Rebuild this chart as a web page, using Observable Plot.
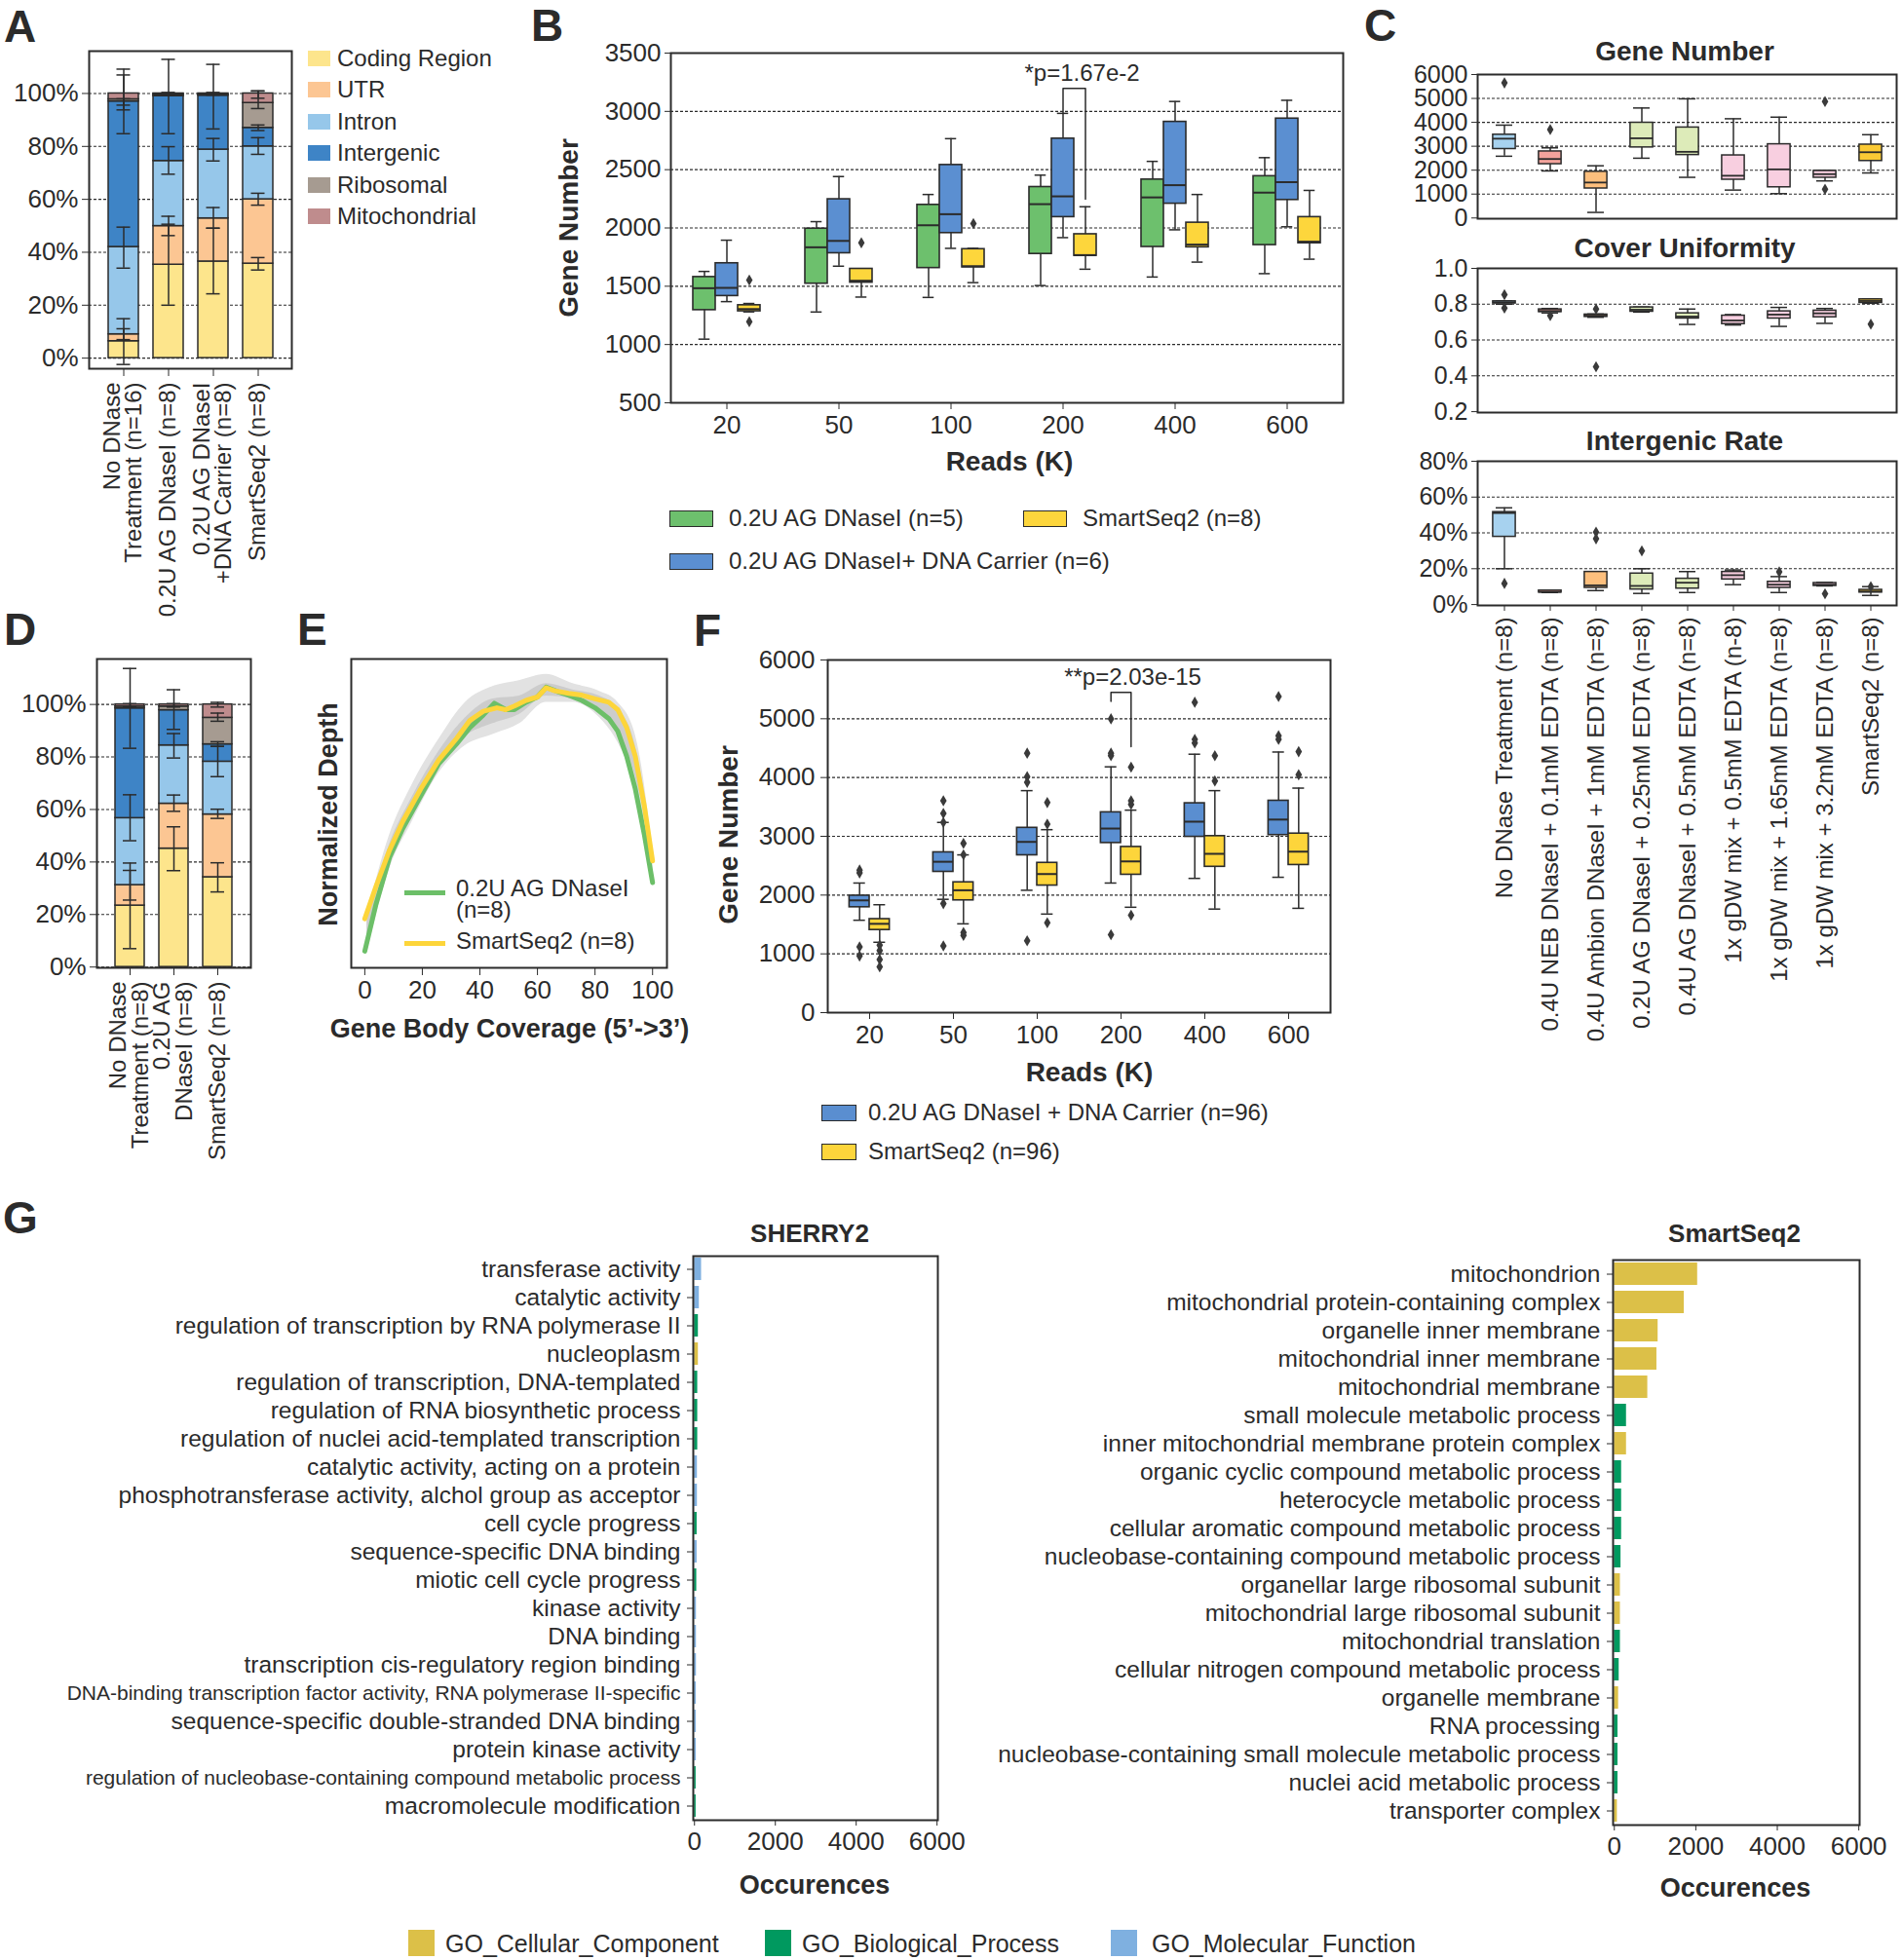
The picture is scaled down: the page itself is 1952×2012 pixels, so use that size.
<!DOCTYPE html>
<html><head><meta charset="utf-8">
<script src="https://cdn.jsdelivr.net/npm/d3@7"></script>
<script src="https://cdn.jsdelivr.net/npm/@observablehq/plot@0.6"></script>
<style>
html,body{margin:0;padding:0;background:#fff;}
#page{position:relative;width:1952px;height:2012px;overflow:hidden;font-family:"Liberation Sans",Arial,Helvetica,sans-serif;color:#2b2b2b;background:#fff;}
.t{position:absolute;white-space:pre;line-height:1;}
.sw{position:absolute;box-sizing:border-box;}
</style></head><body><div id="page"></div>
<script>
// ================= DATA =================
// Panel A
const segments = ["Coding Region","UTR","Intron","Intergenic","Ribosomal","Mitochondrial"];
const catsA = ["No DNase\nTreatment (n=16)","0.2U AG DNaseI (n=8)","0.2U AG DNaseI\n+DNA Carrier (n=8)","SmartSeq2 (n=8)"];
const fracA = [
  [6.4, 2.6, 33.0, 55.0, 0.8, 2.2],
  [35.3, 14.6, 24.6, 24.5, 0.5, 0.5],
  [36.5, 16.3, 26.0, 20.4, 0.4, 0.4],
  [35.7, 24.3, 20.0, 7.0, 9.4, 3.6]
];
const errA = [
  [[-2.4,14.9],[7,11.1],[34,49.5],[84.8,109.2],[95.6,98],[93.8,107]],
  [[20,50.6],[46.3,53.6],[69.5,79.9],[84.8,112.9],[99.4,100.4]],
  [[24.3,49.1],[49.1,56.9],[74.5,83],[86.6,111],[99.4,100.4]],
  [[33.3,38],[57.8,62.3],[77,83.3],[86,88.1],[94.3,100.9],[98.2,101]]
];
const pctTicks = [0,20,40,60,80,100];

// Panel B  (each box: [whiskerLow, q1, median, q3, whiskerHigh])
const readsB = ["20","50","100","200","400","600"];
const seriesB = ["0.2U AG DNaseI (n=5)","0.2U AG DNaseI+ DNA Carrier (n=6)","SmartSeq2 (n=8)"];
const boxB_green = [[1046,1295,1483,1579,1627],[1279,1522,1834,1994,2054],[1404,1656,2023,2198,2287],[1506,1777,2204,2351,2453],[1579,1837,2262,2415,2571],[1608,1853,2303,2444,2603]];
const boxB_blue = [[1368,1416,1486,1697,1895],[1672,1783,1889,2246,2441],[1825,1956,2118,2540,2766],[1917,2093,2271,2766,2983],[1984,2208,2367,2910,3085],[2010,2240,2393,2938,3095]];
const boxB_yellow = [[1280,1285,1304,1337,1352],[1407,1531,1547,1649,1649],[1531,1662,1672,1818,1825],[1646,1761,1767,1946,2182],[1707,1834,1857,2045,2287],[1732,1869,1882,2093,2322]];
const outB = [[0,2,1553],[0,2,1196],[1,2,1873],[2,2,2038]]; // [group, series, value]
const sigB = {group:3, from:1, to:2, top:3197, leftEnd:2990, rightEnd:2246, label:"*p=1.67e-2"};
const ticksB = [500,1000,1500,2000,2500,3000,3500];

// Panel C
const catsC = ["No DNase Treatment (n=8)","0.4U NEB DNaseI + 0.1mM EDTA (n=8)","0.4U Ambion DNaseI + 1mM EDTA (n=8)","0.2U AG DNaseI + 0.25mM EDTA (n=8)","0.4U AG DNaseI + 0.5mM EDTA (n=8)","1x gDW mix + 0.5mM EDTA (n-8)","1x gDW mix + 1.65mM EDTA (n=8)","1x gDW mix + 3.2mM EDTA (n=8)","SmartSeq2 (n=8)"];
const geneNumC = [[2583,2883,3317,3483,3883],[1967,2250,2467,2783,2933],[233,1233,1483,1933,2183],[2500,2950,3333,3983,4600],[1700,2633,2767,3783,4983],[1167,1600,1767,2617,4150],[1017,1283,2033,3083,4217],[1550,1683,1833,1967,1990],[1883,2383,2750,3067,3483]];
const geneNumOutC = [[0,5650],[1,3700],[7,4867],[7,1200]];
const coverC = [[0.800,0.804,0.811,0.816,0.818],[0.751,0.756,0.762,0.771,0.776],[0.727,0.729,0.736,0.742,0.745],[0.756,0.758,0.769,0.782,0.784],[0.687,0.720,0.731,0.749,0.773],[0.684,0.689,0.709,0.736,0.742],[0.676,0.720,0.742,0.760,0.782],[0.693,0.727,0.749,0.764,0.776],[0.805,0.807,0.818,0.827,0.829]];
const coverOutC = [[0,0.853],[0,0.778],[1,0.736],[2,0.773],[2,0.451],[8,0.689]];
const interC = [[20,37.8,51.1,51.6,54],[6.7,6.7,7.1,7.8,8.0],[7.8,9.3,10.7,18.2,18.2],[6.2,8.4,10.4,17.3,20],[6.7,8.9,12.2,14.4,18.4],[11.1,14.0,16.4,18.2,19.3],[6.7,9.3,11.1,12.7,15.6],[10.4,10.4,11.1,12,12.4],[5.1,6.7,7.3,8.2,10]];
const interOutC = [[0,11.8],[2,40.4],[2,36.7],[3,30],[6,18.2],[7,6],[8,10]];

// Panel D
const catsD = ["No DNase\nTreatment (n=8)","0.2U AG\nDNaseI (n=8)","SmartSeq2 (n=8)"];
const fracD = [
  [23.4, 7.8, 25.5, 41.8, 0.7, 0.8],
  [45.1, 17.1, 22.2, 13.4, 1.4, 0.8],
  [34.2, 23.9, 20.1, 6.6, 10.1, 5.1]
];
const errD = [
  [[7,39.6],[25.5,36.8],[48.1,65.6],[83.3,113.7],[99,100.3]],
  [[36.7,53.4],[59.3,65.5],[79.6,88.9],[90.5,105.6],[99,100.3]],
  [[28.6,39.7],[56.6,60.1],[72.5,84],[84,85.8],[93.6,96.7],[99,100.8]]
];

// Panel E (gene body coverage, normalized depth)
const seriesE = ["0.2U AG DNaseI\n(n=8)","SmartSeq2 (n=8)"];
const xGreenE = [0,3.9,8.6,13.2,19.4,25.7,31.9,36.5,41.2,45,49,52,56,60,63,66.9,70.8,75.4,80,84.8,87.9,91,94,97.2,100];
const greenE  = [0.054,0.206,0.357,0.451,0.556,0.661,0.725,0.778,0.819,0.857,0.836,0.836,0.86,0.877,0.909,0.895,0.883,0.866,0.842,0.807,0.766,0.685,0.579,0.428,0.276];
const xYellowE = [0,3.9,8.6,13.2,19.4,25.7,31.9,36.5,41.2,45.9,49,52,56,60,63,66,70.8,75.4,80,84.8,87.9,91,94,97.2,100];
const yellowE  = [0.159,0.264,0.381,0.474,0.579,0.673,0.743,0.801,0.831,0.842,0.836,0.848,0.866,0.877,0.907,0.897,0.889,0.883,0.871,0.86,0.836,0.778,0.685,0.521,0.346];
const xBandE   = [0.8,8.6,16.3,25.7,35,44.3,53.7,63,72.3,81.6,87.9,94,98.8,100];
const outerHiE = [0.17,0.43,0.59,0.74,0.86,0.91,0.93,0.95,0.92,0.895,0.86,0.755,0.47,0.36];
const outerLoE = [0.05,0.32,0.47,0.63,0.72,0.755,0.79,0.86,0.86,0.81,0.73,0.59,0.36,0.26];
const innerHiE = [0.15,0.40,0.55,0.70,0.81,0.87,0.88,0.92,0.90,0.88,0.84,0.72,0.45,0.35];
const innerLoE = [0.07,0.35,0.50,0.66,0.75,0.79,0.82,0.88,0.87,0.83,0.76,0.62,0.39,0.28];
const ticksE = [0,20,40,60,80,100];

// Panel F
const readsF = ["20","50","100","200","400","600"];
const seriesF = ["0.2U AG DNaseI + DNA Carrier (n=96)","SmartSeq2 (n=96)"];
const boxF_blue = [[1572,1793,1910,1990,2205],[1928,2395,2567,2727,3236],[2082,2677,2905,3144,3777],[2205,2886,3132,3408,4182],[2284,2991,3249,3562,4397],[2303,3021,3285,3605,4434]];
const boxF_yellow = [[1197,1406,1511,1591,1836],[1511,1910,2082,2217,2684],[1677,2162,2358,2548,3113],[1793,2346,2573,2819,3445],[1762,2481,2702,3003,3777],[1775,2512,2739,3046,3820]];
const outF = [[0,0,2426],[0,0,2377],[0,0,1118],[0,0,964],[0,1,1148],[0,1,1056],[0,1,903],[0,1,780],
  [1,0,3605],[1,0,3390],[1,0,3236],[1,0,1855],[1,0,1136],[1,1,2880],[1,1,2684],[1,1,1363],[1,1,1314],
  [2,0,4415],[2,0,4016],[2,0,3918],[2,0,1222],[2,1,3574],[2,1,3206],[2,1,1529],
  [3,0,4999],[3,0,4415],[3,0,4372],[3,0,1326],[3,1,4176],[3,1,3605],[3,1,3543],[3,1,1658],
  [4,0,5281],[4,0,4649],[4,0,4587],[4,1,4372],[4,1,3942],
  [5,0,5379],[5,0,4710],[5,0,4649],[5,1,4440],[5,1,4047]];
const sigF = {group:3, from:0, to:1, top:5447, leftEnd:5294, rightEnd:4526, label:"**p=2.03e-15"};
const ticksF = [0,1000,2000,3000,4000,5000,6000];

// Panel G
const goCats = ["GO_Cellular_Component","GO_Biological_Process","GO_Molecular_Function"];
const termsS = ["transferase activity","catalytic activity","regulation of transcription by RNA polymerase II","nucleoplasm","regulation of transcription, DNA-templated","regulation of RNA biosynthetic process","regulation of nuclei acid-templated transcription","catalytic activity, acting on a protein","phosphotransferase activity, alchol group as acceptor","cell cycle progress","sequence-specific DNA binding","miotic cell cycle progress","kinase activity","DNA binding","transcription cis-regulatory region binding","DNA-binding transcription factor activity, RNA polymerase II-specific","sequence-specific double-stranded DNA binding","protein kinase activity","regulation of nucleobase-containing compound metabolic process","macromolecule modification"];
const countsS = [175,120,96,96,80,80,80,72,72,65,65,56,48,48,48,45,45,45,40,40];
const goS = [2,2,1,0,1,1,1,2,2,1,2,1,2,2,2,2,2,2,1,1];
const termsQ = ["mitochondrion","mitochondrial protein-containing complex","organelle inner membrane","mitochondrial inner membrane","mitochondrial membrane","small molecule metabolic process","inner mitochondrial membrane protein complex","organic cyclic compound metabolic process","heterocycle metabolic process","cellular aromatic compound metabolic process","nucleobase-containing compound metabolic process","organellar large ribosomal subunit","mitochondrial large ribosomal subunit","mitochondrial translation","cellular nitrogen compound metabolic process","organelle membrane","RNA processing","nucleobase-containing small molecule metabolic process","nuclei acid metabolic process","transporter complex"];
const countsQ = [2045,1717,1075,1045,821,299,299,179,179,179,164,149,149,149,119,105,90,90,90,75];
const goQ = [0,0,0,0,0,1,0,1,1,1,1,0,0,1,1,0,1,1,1,0];
const ticksG = [0,2000,4000,6000];

// ================= STYLE =================
const FONT = '"Liberation Sans", Arial, Helvetica, sans-serif';
const INK = "#2b2b2b";
const segColors = ["#fde58c","#fcc693","#96c7ea","#3e84c6","#a69b91","#bf8c8d"];
const colB = ["#6dc06d","#5b8fd1","#fdd63c"];
const offB = [-0.2, 0, 0.2];
const colC = ["#a7d2ef","#f3a39c","#fdbf7d","#ddebb9","#ddebb9","#f8cfe0","#f8cfe0","#f8cfe0","#fbca35"];
const colE = ["#6cbf68","#fdd53a"];
const colF = ["#5a8ed0","#fdd53b"];
const offF = [-0.12, 0.12];
const goColors = ["#dcc048","#00995f","#7fb0e0"];
const dashed = {stroke: INK, strokeWidth: 1.1, strokeDasharray: "3,2"};
const plain = d => String(d);
const page = document.getElementById("page");

const thinDiamond = {
  draw(context, size) {
    const r = Math.sqrt(size / Math.PI);
    const h = r * 1.45, w = r * 0.85;
    context.moveTo(0, -h); context.lineTo(w, 0); context.lineTo(0, h); context.lineTo(-w, 0); context.closePath();
  }
};

function plotAt(frame, m, opts) {
  const w = frame.r - frame.l, h = frame.b - frame.t;
  const svg = Plot.plot({
    width: w + m.l + m.r, height: h + m.t + m.b,
    marginLeft: m.l, marginRight: m.r, marginTop: m.t, marginBottom: m.b,
    style: {fontFamily: FONT, fontSize: "24px", background: "transparent", overflow: "visible", color: INK},
    ...opts
  });
  svg.style.position = "absolute";
  svg.style.left = (frame.l - m.l) + "px";
  svg.style.top = (frame.t - m.t) + "px";
  svg.style.maxWidth = "none";
  page.appendChild(svg);
  return svg;
}
function txt(s, x, y, o = {}) {
  const d = document.createElement("div");
  d.className = "t";
  d.textContent = s;
  d.style.fontSize = (o.size || 24) + "px";
  if (o.bold) d.style.fontWeight = "bold";
  if (o.lh) d.style.lineHeight = o.lh;
  d.style.left = x + "px"; d.style.top = y + "px";
  const ax = o.anchor === "middle" ? "-50%" : o.anchor === "end" ? "-100%" : "0";
  d.style.transform = `translate(${ax},-50%)` + (o.rotate ? ` rotate(${o.rotate}deg)` : "");
  page.appendChild(d);
}
function sw(x, y, w, h, fill, border) {
  const d = document.createElement("div");
  d.className = "sw";
  Object.assign(d.style, {left: x + "px", top: y + "px", width: w + "px", height: h + "px", background: fill});
  if (border) d.style.border = border;
  page.appendChild(d);
}
const frameMark = () => Plot.frame({stroke: INK, strokeWidth: 2});

function errMarks(rows, inset) {
  const o = {stroke: INK, strokeWidth: 1.5};
  return [
    Plot.ruleX(rows, {x: "cat", y1: "lo", y2: "hi", ...o}),
    Plot.tickY(rows, {x: "cat", y: "lo", insetLeft: inset, insetRight: inset, ...o}),
    Plot.tickY(rows, {x: "cat", y: "hi", insetLeft: inset, insetRight: inset, ...o})
  ];
}
function boxLinear(rows, halfW, capHalf) {
  const o = {stroke: INK, strokeWidth: 1.5};
  return [
    Plot.ruleX(rows, {x: "pos", y1: "lo", y2: "hi", ...o}),
    Plot.ruleY(rows, {y: "lo", x1: d => d.pos - capHalf, x2: d => d.pos + capHalf, ...o}),
    Plot.ruleY(rows, {y: "hi", x1: d => d.pos - capHalf, x2: d => d.pos + capHalf, ...o}),
    Plot.rect(rows, {x1: d => d.pos - halfW, x2: d => d.pos + halfW, y1: "q1", y2: "q3", fill: "fill", stroke: INK, strokeWidth: 1.6}),
    Plot.ruleY(rows, {y: "med", x1: d => d.pos - halfW, x2: d => d.pos + halfW, stroke: INK, strokeWidth: 2})
  ];
}
function boxBand(rows, boxInset, capInset) {
  const o = {stroke: INK, strokeWidth: 1.5};
  return [
    Plot.ruleX(rows, {x: "cat", y1: "lo", y2: "hi", ...o}),
    Plot.tickY(rows, {x: "cat", y: "lo", insetLeft: capInset, insetRight: capInset, ...o}),
    Plot.tickY(rows, {x: "cat", y: "hi", insetLeft: capInset, insetRight: capInset, ...o}),
    Plot.barY(rows, {x: "cat", y1: "q1", y2: "q3", fill: "fill", insetLeft: boxInset, insetRight: boxInset, stroke: INK, strokeWidth: 1.5}),
    Plot.tickY(rows, {x: "cat", y: "med", insetLeft: boxInset, insetRight: boxInset, stroke: INK, strokeWidth: 1.8})
  ];
}
const toBox = (v, extra) => ({lo: v[0], q1: v[1], med: v[2], q3: v[3], hi: v[4], ...extra});

// ================= PANEL A =================
const rowsA = catsA.flatMap((c, i) => segments.map((s, j) => ({cat: c, seg: s, value: fracA[i][j]})));
const errRowsA = catsA.flatMap((c, i) => errA[i].map(([lo, hi]) => ({cat: c, lo, hi})));
plotAt({l: 91, t: 52, r: 299, b: 378}, {l: 100, t: 10, r: 10, b: 290}, {
  x: {domain: catsA, paddingInner: 0.33, paddingOuter: 0.39, label: null},
  y: {domain: [-4, 116], label: null},
  color: {domain: segments, range: segColors},
  marks: [
    Plot.ruleY(pctTicks, dashed),
    Plot.barY(rowsA, {x: "cat", y: "value", fill: "seg", stroke: INK, strokeWidth: 1.5}),
    ...errMarks(errRowsA, 8.5),
    frameMark(),
    Plot.axisY({ticks: pctTicks, tickFormat: d => d + "%", tickSize: 7, tickPadding: 4, fontSize: 26, label: null}),
    Plot.axisX({tickRotate: -90, tickSize: 8, tickPadding: 6, fontSize: 24, lineHeight: 0.92, label: null})
  ]
});
segments.forEach((s, i) => {
  const cy = 59.5 + i * 32.5;
  sw(316, cy - 8, 23, 16, segColors[i]);
  txt(s, 346, cy, {size: 24});
});

// ================= PANEL B =================
const rowsB = [boxB_green, boxB_blue, boxB_yellow].flatMap((arr, s) => arr.map((v, g) => toBox(v, {pos: g + offB[s], fill: colB[s]})));
const outRowsB = outB.map(([g, s, v]) => ({pos: g + offB[s], v}));
const bracketB = [
  {x: sigB.group + offB[sigB.from], y: sigB.leftEnd}, {x: sigB.group + offB[sigB.from], y: sigB.top},
  {x: sigB.group + offB[sigB.to], y: sigB.top}, {x: sigB.group + offB[sigB.to], y: sigB.rightEnd}
];
plotAt({l: 688, t: 54, r: 1378, b: 413}, {l: 90, t: 10, r: 10, b: 60}, {
  x: {domain: [-0.5, 5.5], label: null},
  y: {domain: [500, 3500], label: null},
  marks: [
    Plot.ruleY([1000, 1500, 2000, 2500, 3000], dashed),
    ...boxLinear(rowsB, 0.1, 0.05),
    Plot.dot(outRowsB, {x: "pos", y: "v", symbol: thinDiamond, r: 4, fill: "#3a3a3a"}),
    Plot.line(bracketB, {x: "x", y: "y", stroke: INK, strokeWidth: 1.5}),
    Plot.text([sigB], {x: d => d.group + 0.17, y: "top", text: "label", dy: -15, fontSize: 24, lineAnchor: "middle"}),
    frameMark(),
    Plot.axisY({ticks: ticksB, tickFormat: plain, tickSize: 6, tickPadding: 4, fontSize: 26, label: null}),
    Plot.axisX({ticks: [0, 1, 2, 3, 4, 5], tickFormat: i => readsB[i], tickSize: 7, tickPadding: 6, fontSize: 26, label: null})
  ]
});
txt("Gene Number", 584, 234, {size: 28, bold: true, anchor: "middle", rotate: -90});
txt("Reads (K)", 1036, 474, {size: 28, bold: true, anchor: "middle"});
[[0, 687, 532], [2, 1050, 532], [1, 687, 576]].forEach(([s, x, cy]) => {
  sw(x, cy - 8, 45, 17, colB[s], "1.6px solid " + INK);
  txt(seriesB[s], x + 61, cy, {size: 24});
});

// ================= PANEL C =================
function cPanel(frame, data, outs, domain, ticks, fmt, grid, withX) {
  const rows = data.map((v, i) => toBox(v, {cat: catsC[i], fill: colC[i]}));
  const outRows = outs.map(([i, v]) => ({cat: catsC[i], v}));
  plotAt(frame, {l: 100, t: 5, r: 5, b: withX ? 520 : 5}, {
    x: {domain: catsC, padding: 0, label: null, axis: null},
    y: {domain, label: null},
    marks: [
      Plot.ruleY(grid, dashed),
      ...boxBand(rows, 11.9, 15),
      Plot.dot(outRows, {x: "cat", y: "v", symbol: thinDiamond, r: 4, fill: "#3a3a3a"}),
      frameMark(),
      Plot.axisY({ticks, tickFormat: fmt, tickSize: 6, tickPadding: 4, fontSize: 25, label: null}),
      ...(withX ? [Plot.axisX({tickRotate: -90, tickSize: 6, tickPadding: 6, fontSize: 24, label: null})] : [])
    ]
  });
}
cPanel({l: 1516, t: 76, r: 1946, b: 224}, geneNumC, geneNumOutC, [-30, 6000], [0,1000,2000,3000,4000,5000,6000], plain, [1000,2000,3000,4000,5000], false);
cPanel({l: 1516, t: 275, r: 1946, b: 423}, coverC, coverOutC, [0.195, 1.0], [0.2,0.4,0.6,0.8,1.0], d3.format(".1f"), [0.4,0.6,0.8], false);
cPanel({l: 1516, t: 473, r: 1946, b: 621}, interC, interOutC, [-0.5, 80], [0,20,40,60,80], d => d + "%", [20,40,60], true);
txt("Gene Number", 1729, 53, {size: 28, bold: true, anchor: "middle"});
txt("Cover Uniformity", 1729, 255, {size: 28, bold: true, anchor: "middle"});
txt("Intergenic Rate", 1729, 453, {size: 28, bold: true, anchor: "middle"});

// ================= PANEL D =================
const rowsD = catsD.flatMap((c, i) => segments.map((s, j) => ({cat: c, seg: s, value: fracD[i][j]})));
const errRowsD = catsD.flatMap((c, i) => errD[i].map(([lo, hi]) => ({cat: c, lo, hi})));
plotAt({l: 99, t: 676, r: 257, b: 993}, {l: 100, t: 10, r: 10, b: 270}, {
  x: {domain: catsD, paddingInner: 0.33, paddingOuter: 0.417, label: null},
  y: {domain: [-0.3, 117.3], label: null},
  color: {domain: segments, range: segColors},
  marks: [
    Plot.ruleY(pctTicks, dashed),
    Plot.barY(rowsD, {x: "cat", y: "value", fill: "seg", stroke: INK, strokeWidth: 1.5}),
    ...errMarks(errRowsD, 8),
    frameMark(),
    Plot.axisY({ticks: pctTicks, tickFormat: d => d + "%", tickSize: 7, tickPadding: 4, fontSize: 26, label: null}),
    Plot.axisX({tickRotate: -90, tickSize: 8, tickPadding: 6, fontSize: 24, lineHeight: 0.95, label: null})
  ]
});

// ================= PANEL E =================
const bandE = xBandE.map((x, i) => ({x, oLo: outerLoE[i], oHi: outerHiE[i], iLo: innerLoE[i], iHi: innerHiE[i]}));
const greenRows = xGreenE.map((x, i) => ({x, y: greenE[i]}));
const yellowRows = xYellowE.map((x, i) => ({x, y: yellowE[i]}));
plotAt({l: 360, t: 676, r: 684, b: 993}, {l: 10, t: 10, r: 10, b: 60}, {
  x: {domain: [-4.7, 105], label: null},
  y: {domain: [0, 1], axis: null},
  marks: [
    Plot.areaY(bandE, {x: "x", y1: "oLo", y2: "oHi", fill: "#e2e2e2", curve: "monotone-x"}),
    Plot.areaY(bandE, {x: "x", y1: "iLo", y2: "iHi", fill: "#cccccc", curve: "monotone-x"}),
    Plot.line(greenRows, {x: "x", y: "y", stroke: colE[0], strokeWidth: 5}),
    Plot.line(yellowRows, {x: "x", y: "y", stroke: colE[1], strokeWidth: 5}),
    frameMark(),
    Plot.axisX({ticks: ticksE, tickSize: 8, tickPadding: 5, fontSize: 26, label: null})
  ]
});
txt("Normalized Depth", 337, 836, {size: 27, bold: true, anchor: "middle", rotate: -90});
txt("Gene Body Coverage (5\u2019->3\u2019)", 523, 1056, {size: 27, bold: true, anchor: "middle"});
sw(415, 914, 42, 5, colE[0]);
sw(415, 966, 42, 5, colE[1]);
txt(seriesE[0], 468, 923, {size: 24, lh: "22px"});
txt(seriesE[1], 468, 966, {size: 24});

// ================= PANEL F =================
const rowsF = [boxF_blue, boxF_yellow].flatMap((arr, s) => arr.map((v, g) => toBox(v, {pos: g + offF[s], fill: colF[s]})));
const outRowsF = outF.map(([g, s, v]) => ({pos: g + offF[s], v}));
const bracketF = [
  {x: sigF.group + offF[sigF.from], y: sigF.leftEnd}, {x: sigF.group + offF[sigF.from], y: sigF.top},
  {x: sigF.group + offF[sigF.to], y: sigF.top}, {x: sigF.group + offF[sigF.to], y: sigF.rightEnd}
];
plotAt({l: 849, t: 677, r: 1365, b: 1039}, {l: 100, t: 10, r: 10, b: 60}, {
  x: {domain: [-0.5, 5.5], label: null},
  y: {domain: [0, 6000], label: null},
  marks: [
    Plot.ruleY([1000, 2000, 3000, 4000, 5000], dashed),
    ...boxLinear(rowsF, 0.12, 0.07),
    Plot.dot(outRowsF, {x: "pos", y: "v", symbol: thinDiamond, r: 4, fill: "#3a3a3a"}),
    Plot.line(bracketF, {x: "x", y: "y", stroke: INK, strokeWidth: 1.5}),
    Plot.text([sigF], {x: d => d.group + 0.14, y: "top", text: "label", dy: -16, fontSize: 24, lineAnchor: "middle"}),
    frameMark(),
    Plot.axisY({ticks: ticksF, tickFormat: plain, tickSize: 7, tickPadding: 6, fontSize: 26, label: null}),
    Plot.axisX({ticks: [0, 1, 2, 3, 4, 5], tickFormat: i => readsF[i], tickSize: 7, tickPadding: 6, fontSize: 26, label: null})
  ]
});
txt("Gene Number", 748, 857, {size: 28, bold: true, anchor: "middle", rotate: -90});
txt("Reads (K)", 1118, 1101, {size: 28, bold: true, anchor: "middle"});
[[0, 1142], [1, 1182]].forEach(([s, cy]) => {
  sw(843, cy - 8.5, 36, 17, colF[s], "1.6px solid " + INK);
  txt(seriesF[s], 891, cy, {size: 24});
});

// ================= PANEL G =================
function goPlot(frame, terms, counts, cats) {
  const rows = terms.map((t, i) => ({term: t, count: counts[i], cat: goCats[cats[i]]}));
  plotAt(frame, {l: 700, t: 5, r: 10, b: 60}, {
    x: {domain: [-30, 6020], label: null},
    y: {domain: terms, paddingInner: 0.2, paddingOuter: 0.05, label: null},
    color: {domain: goCats, range: goColors},
    marks: [
      Plot.barX(rows, {y: "term", x: "count", fill: "cat"}),
      frameMark(),
      Plot.axisY({tickSize: 6, tickFormat: () => "", label: null}),
      Plot.text(rows, {y: "term", frameAnchor: "left", textAnchor: "end", dx: -13, text: "term", fill: INK,
        fontSize: d => d.term.length > 60 ? 21 : 24.5}),
      Plot.axisX({ticks: ticksG, tickFormat: plain, tickSize: 6, tickPadding: 6, fontSize: 26, label: null})
    ]
  });
}
goPlot({l: 711, t: 1289, r: 962, b: 1868}, termsS, countsS, goS);
goPlot({l: 1655, t: 1293, r: 1908, b: 1873}, termsQ, countsQ, goQ);
txt("SHERRY2", 831, 1266, {size: 26, bold: true, anchor: "middle"});
txt("SmartSeq2", 1780, 1266, {size: 26, bold: true, anchor: "middle"});
txt("Occurences", 836, 1935, {size: 27, bold: true, anchor: "middle"});
txt("Occurences", 1781, 1938, {size: 27, bold: true, anchor: "middle"});
[[419, 457], [785, 823], [1140, 1182]].forEach(([sx, tx], i) => {
  sw(sx, 1981, 27, 27, goColors[i]);
  txt(goCats[i], tx, 1995, {size: 25});
});

// ================= PANEL LETTERS =================
[["A", 4, 27], ["B", 545, 26], ["C", 1400, 26], ["D", 4, 646], ["E", 305, 646], ["F", 712, 647], ["G", 3, 1250]]
  .forEach(([s, x, y]) => txt(s, x, y, {size: 46, bold: true}));
</script></body></html>
